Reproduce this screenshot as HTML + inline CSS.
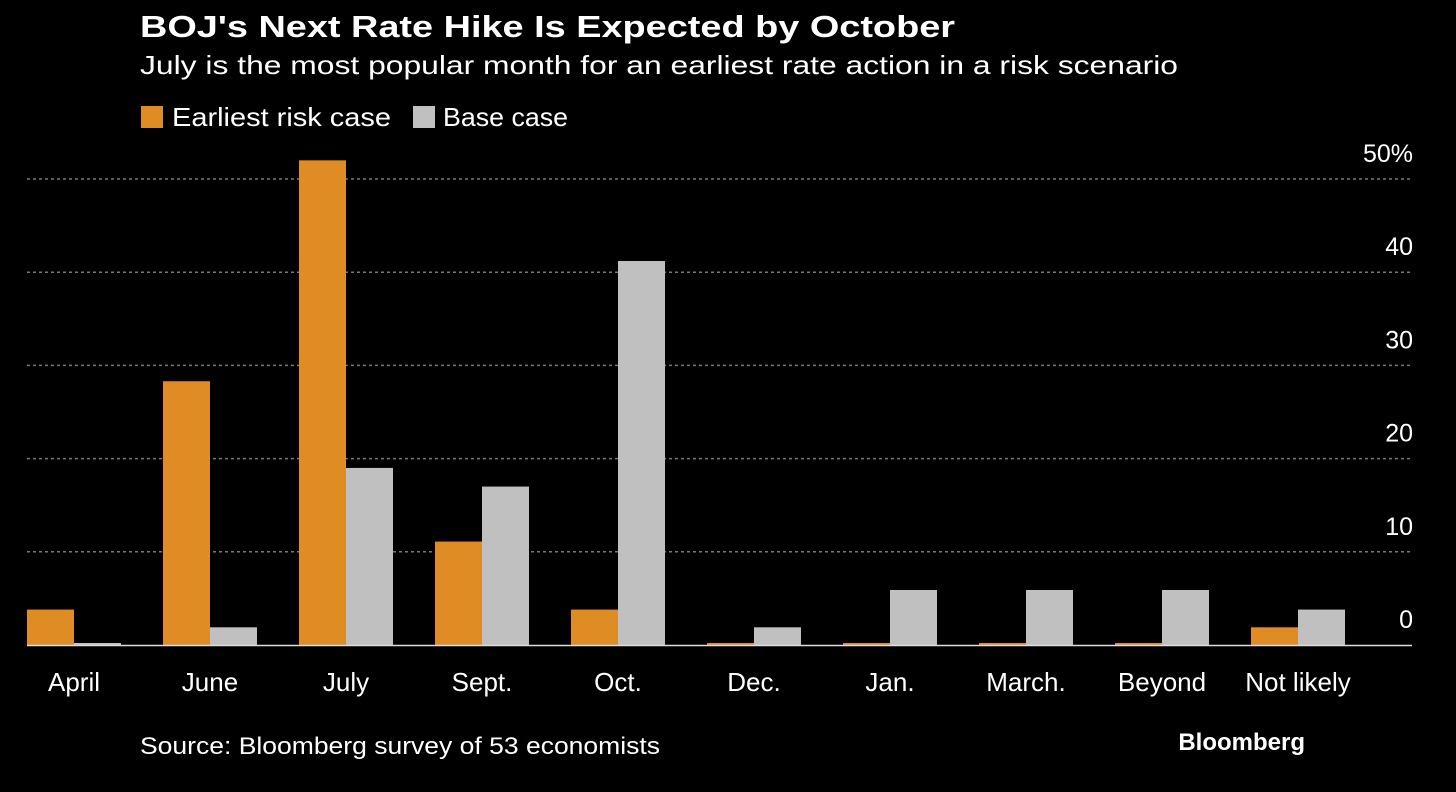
<!DOCTYPE html>
<html><head><meta charset="utf-8"><style>
body{margin:0;background:#000;width:1456px;height:787px;overflow:hidden;font-family:"Liberation Sans",sans-serif;color:#fff}
svg text{font-family:"Liberation Sans",sans-serif}
</style></head><body>
<svg width="1456" height="787">
<text x="140" y="37" font-size="31" font-weight="bold" fill="#fff" textLength="815" lengthAdjust="spacingAndGlyphs">BOJ's Next Rate Hike Is Expected by October</text>
<text x="140" y="74" font-size="26" fill="#fff" textLength="1038" lengthAdjust="spacingAndGlyphs">July is the most popular month for an earliest rate action in a risk scenario</text>
<g>
<rect x="141" y="106" width="22" height="22" fill="#e08c25"/>
<text x="172" y="126" font-size="26" fill="#fff" textLength="219" lengthAdjust="spacingAndGlyphs">Earliest risk case</text>
<rect x="413" y="106" width="22" height="22" fill="#c0c0c0"/>
<text x="443" y="126" font-size="26" fill="#fff" textLength="125" lengthAdjust="spacingAndGlyphs">Base case</text>
</g>
<g id="plot"></g>
<text x="140" y="754" font-size="24" fill="#fff" textLength="520" lengthAdjust="spacingAndGlyphs">Source: Bloomberg survey of 53 economists</text>
<text x="1305" y="750" font-size="24" font-weight="bold" fill="#fff" text-anchor="end">Bloomberg</text>
</svg>
<script>
const categories=["April","June","July","Sept.","Oct.","Dec.","Jan.","March.","Beyond","Not likely"];
const riskValues=[3.8,28.3,52.0,11.1,3.8,0,0,0,0,1.9];
const baseValues=[0,1.9,19.0,17.0,41.2,1.9,5.9,5.9,5.9,3.8];
const tickValues=[0,10,20,30,40,50];
const tickLabels=["0","10","20","30","40","50%"];
const NS="http://www.w3.org/2000/svg";
const g=document.getElementById('plot');
const y0=645,pxPer=9.32,left=27,right=1412,step=136,bw=47;
const y=v=>y0-v*pxPer;
const x=i=>left+i*step;
function mk(t,a){const e=document.createElementNS(NS,t);for(const k in a)e.setAttribute(k,a[k]);g.appendChild(e);return e;}
tickValues.forEach((v,i)=>{
 if(v>0){const l=mk('line',{x1:left,x2:right,y1:y(v),y2:y(v),stroke:'#777','stroke-width':1.5,'stroke-dasharray':'3,3'});
 
 }
 const t=mk('text',{x:1413,y:y(v)-17,'font-size':25,fill:'#fff','text-anchor':'end'});
 t.textContent=tickLabels[i];
 
 
});
categories.forEach((c,i)=>{
 const hr=Math.max(riskValues[i]*pxPer,2),hb=Math.max(baseValues[i]*pxPer,2);
 const r=mk('rect',{x:x(i),y:y0-hr,width:bw,height:hr,fill:'#e08c25'});
 
 
 const b=mk('rect',{x:x(i)+bw,y:y0-hb,width:bw,height:hb,fill:'#c0c0c0'});
 
 
 const t=mk('text',{x:x(i)+bw,y:691,'font-size':26,fill:'#fff','text-anchor':'middle'});
 t.textContent=c;
 
 
});
const ax=mk('line',{x1:left,x2:right,y1:y0+0.5,y2:y0+0.5,stroke:'#ddd','stroke-width':1.5});


</script>
</body></html>
